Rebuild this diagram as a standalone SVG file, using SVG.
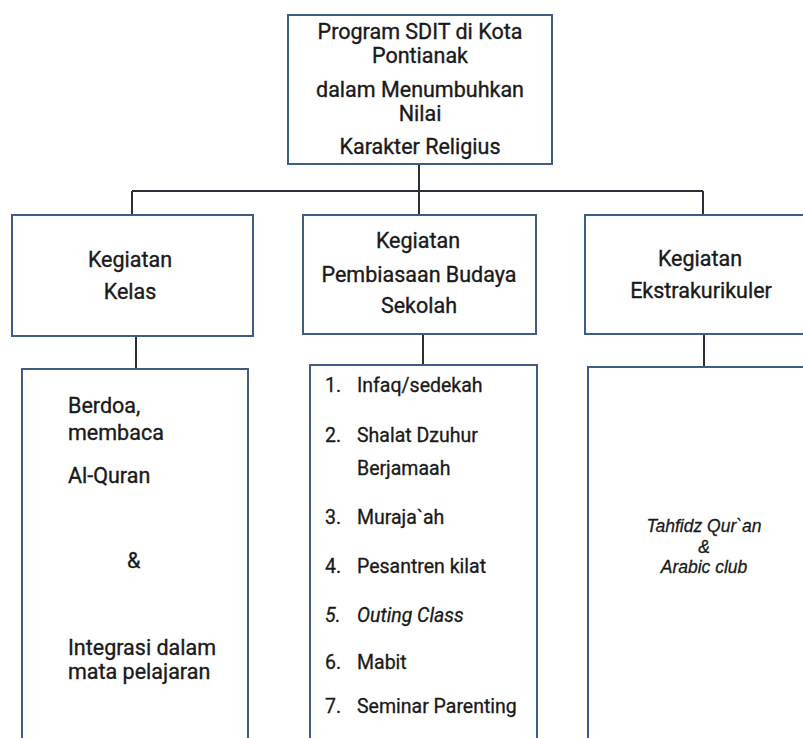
<svg xmlns="http://www.w3.org/2000/svg" width="803" height="738" viewBox="0 0 803 738">
<style>
.box{fill:#ffffff;stroke:#3f5d82;stroke-width:2}
.conn{stroke:#2b2f36;stroke-width:2;fill:none}
.t{font-family:Roboto,"Liberation Sans",sans-serif;font-size:21.5px;fill:#1a1a1a;stroke:#1a1a1a;stroke-width:0.35}
.c{text-anchor:middle}
.li{font-family:Roboto,"Liberation Sans",sans-serif;font-size:19.5px;fill:#1a1a1a;stroke:#1a1a1a;stroke-width:0.3}
.it{font-style:italic}
.sm{font-family:"Liberation Sans",Arial,sans-serif;font-size:17.5px;font-style:italic;fill:#1a1a1a;stroke:#1a1a1a;stroke-width:0.3;text-anchor:middle}
</style>
<rect width="803" height="738" fill="#ffffff"/>
<g id="connectors">
<line class="conn" x1="419" y1="164" x2="419" y2="191"/>
<line class="conn" x1="132" y1="191" x2="703" y2="191"/>
<line class="conn" x1="132" y1="191" x2="132" y2="215"/>
<line class="conn" x1="419" y1="191" x2="419" y2="215"/>
<line class="conn" x1="703" y1="191" x2="703" y2="215"/>
<line class="conn" x1="136" y1="336" x2="136" y2="369"/>
<line class="conn" x1="423" y1="334" x2="423" y2="365"/>
<line class="conn" x1="704" y1="334" x2="704" y2="367"/>
</g>
<g id="root">
<rect class="box" x="288" y="15" width="264" height="149"/>
<text class="t c" x="420" y="39">Program SDIT di Kota</text>
<text class="t c" x="420" y="63">Pontianak</text>
<text class="t c" x="420" y="97">dalam Menumbuhkan</text>
<text class="t c" x="420" y="121">Nilai</text>
<text class="t c" x="420" y="154">Karakter Religius</text>
</g>
<g id="kelas">
<rect class="box" x="12" y="215" width="241" height="121"/>
<text class="t c" x="130" y="267">Kegiatan</text>
<text class="t c" x="130" y="299">Kelas</text>
</g>
<g id="budaya">
<rect class="box" x="303" y="215" width="233" height="119"/>
<text class="t c" x="418" y="248">Kegiatan</text>
<text class="t c" x="419" y="282">Pembiasaan Budaya</text>
<text class="t c" x="419" y="313">Sekolah</text>
</g>
<g id="ekstra">
<rect class="box" x="585" y="215" width="240" height="119"/>
<text class="t c" x="700" y="266">Kegiatan</text>
<text class="t c" x="701" y="298">Ekstrakurikuler</text>
</g>
<g id="kelas-detail">
<rect class="box" x="22" y="369" width="226" height="380"/>
<text class="t" x="68" y="413">Berdoa,</text>
<text class="t" x="68" y="440">membaca</text>
<text class="t" x="68" y="483">Al-Quran</text>
<text class="t" x="127" y="568">&amp;</text>
<text class="t" x="68" y="655">Integrasi dalam</text>
<text class="t" x="68" y="679">mata pelajaran</text>
</g>
<g id="budaya-detail">
<rect class="box" x="310" y="365" width="227" height="384"/>
<text class="li" x="325" y="392">1.</text><text class="li" x="357" y="392">Infaq/sedekah</text>
<text class="li" x="325" y="442">2.</text><text class="li" x="357" y="442">Shalat Dzuhur</text>
<text class="li" x="357" y="475">Berjamaah</text>
<text class="li" x="325" y="524">3.</text><text class="li" x="357" y="524">Muraja`ah</text>
<text class="li" x="325" y="573">4.</text><text class="li" x="357" y="573">Pesantren kilat</text>
<text class="li it" x="325" y="622">5.</text><text class="li it" x="357" y="622">Outing Class</text>
<text class="li" x="325" y="669">6.</text><text class="li" x="357" y="669">Mabit</text>
<text class="li" x="325" y="713">7.</text><text class="li" x="357" y="713">Seminar Parenting</text>
</g>
<g id="ekstra-detail">
<rect class="box" x="588" y="367" width="240" height="382"/>
<text class="sm" x="704" y="532">Tahfidz Qur`an</text>
<text class="sm" x="704" y="553" font-style="normal">&amp;</text>
<text class="sm" x="704" y="573">Arabic club</text>
</g>
</svg>
